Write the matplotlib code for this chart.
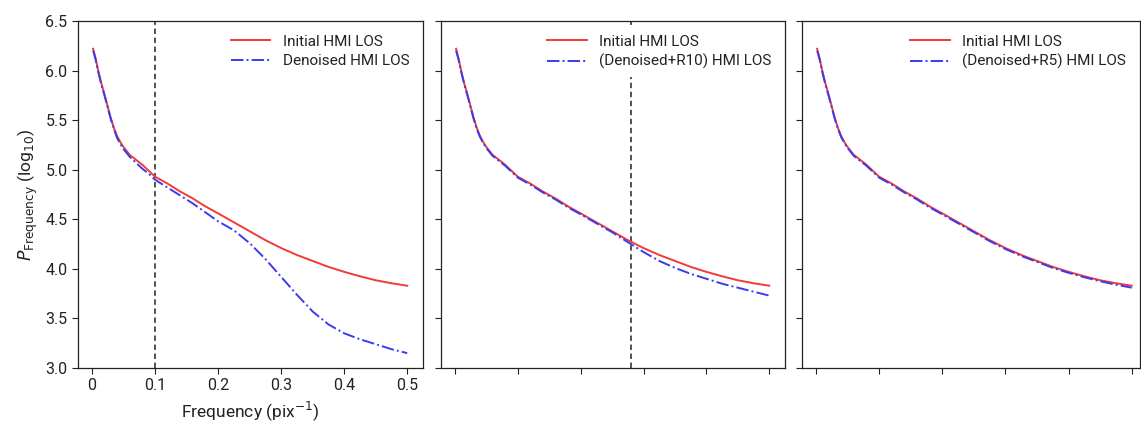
import matplotlib
matplotlib.use("Agg")
import matplotlib.pyplot as plt

freq = [0.002, 0.006, 0.010, 0.015, 0.020, 0.025, 0.030, 0.035, 0.040, 0.045,
        0.050, 0.060, 0.070, 0.080, 0.090, 0.100, 0.120, 0.140, 0.160, 0.180,
        0.200, 0.225, 0.250, 0.275, 0.300, 0.325, 0.350, 0.375, 0.400, 0.425,
        0.450, 0.475, 0.500]

initial = [6.22, 6.12, 6.00, 5.87, 5.76, 5.64, 5.52, 5.42, 5.34, 5.28,
           5.23, 5.15, 5.10, 5.05, 4.99, 4.93, 4.86, 4.78, 4.71, 4.63,
           4.56, 4.47, 4.38, 4.29, 4.21, 4.14, 4.08, 4.02, 3.97, 3.925,
           3.885, 3.855, 3.83]

denoised = [6.20, 6.11, 5.99, 5.86, 5.75, 5.63, 5.51, 5.41, 5.32, 5.26,
            5.21, 5.13, 5.07, 5.01, 4.96, 4.90, 4.82, 4.74, 4.66, 4.57,
            4.48, 4.39, 4.26, 4.10, 3.92, 3.74, 3.57, 3.44, 3.35, 3.29,
            3.24, 3.19, 3.15]

denoised_r10 = [6.20, 6.11, 5.99, 5.86, 5.75, 5.63, 5.51, 5.41, 5.33, 5.27,
                5.22, 5.14, 5.09, 5.04, 4.98, 4.92, 4.85, 4.77, 4.70, 4.62,
                4.55, 4.46, 4.37, 4.27, 4.17, 4.08, 4.01, 3.95, 3.90, 3.85,
                3.81, 3.77, 3.73]

denoised_r5 = [6.20, 6.11, 5.99, 5.86, 5.75, 5.63, 5.51, 5.41, 5.33, 5.27,
               5.22, 5.14, 5.09, 5.04, 4.98, 4.92, 4.85, 4.77, 4.70, 4.62,
               4.55, 4.46, 4.37, 4.28, 4.20, 4.13, 4.07, 4.01, 3.96, 3.915,
               3.875, 3.84, 3.81]

labels = ["Denoised HMI LOS", "(Denoised+R10) HMI LOS", "(Denoised+R5) HMI LOS"]
series = [denoised, denoised_r10, denoised_r5]
cutoffs = [0.1, 0.28, None]
xticks = [0, 0.1, 0.2, 0.3, 0.4, 0.5]
xticklabels = ["0", "0.1", "0.2", "0.3", "0.4", "0.5"]
yticks = [3.0, 3.5, 4.0, 4.5, 5.0, 5.5, 6.0, 6.5]

plt.rcParams['font.family'] = ['Roboto', 'DejaVu Sans']

fig = plt.figure(figsize=(11.41, 4.25), dpi=100)
W, H = 1141.0, 425.0
top, bot = 21, 368
boxes = [(78, 423, 0.525), (441, 785, 0.525), (802, 1140, 0.513)]

red = '#f23a3a'
blue = '#3a3af0'

for i, (l, r, xmax) in enumerate(boxes):
    ax = fig.add_axes([l / W, 1 - bot / H, (r - l) / W, (bot - top) / H])
    ax.plot(freq, initial, color=red, lw=1.4, label="Initial HMI LOS", zorder=3)
    ax.plot(freq, series[i], color=blue, lw=1.4, ls='-.', label=labels[i], zorder=4)
    ax.set_xlim(-0.022, xmax)
    ax.set_ylim(3.0, 6.5)
    ax.set_xticks(xticks)
    ax.set_yticks(yticks)
    ax.tick_params(direction='out', length=4, width=0.8, labelsize=11.5, colors='#222222')
    if i == 0:
        ax.set_xticklabels(xticklabels)
        ax.set_yticklabels([f"{v:.1f}" for v in yticks])
        ax.set_xlabel("Frequency (pix$^{-1}$)", fontsize=12.5, color='#222222')
        ax.set_ylabel("$P_{\\mathrm{Frequency}}$ (log$_{10}$)", fontsize=12.5, color='#222222')
    else:
        ax.set_xticklabels([])
        ax.set_yticklabels([])
    if cutoffs[i] is not None:
        ax.axvline(cutoffs[i], color='#444444', ls=(0, (3, 2)), lw=1.3, zorder=2)
    for s in ax.spines.values():
        s.set_linewidth(0.9)
        s.set_color('#222222')
    leg = ax.legend(loc='upper right', fontsize=11, frameon=True, fancybox=False,
                    framealpha=1.0, edgecolor='none', handlelength=2.6,
                    borderaxespad=0.4, labelspacing=0.35, borderpad=0.5)
    leg.set_zorder(5)
    for t in leg.get_texts():
        t.set_color('#222222')

fig.savefig("out.png", dpi=100)
